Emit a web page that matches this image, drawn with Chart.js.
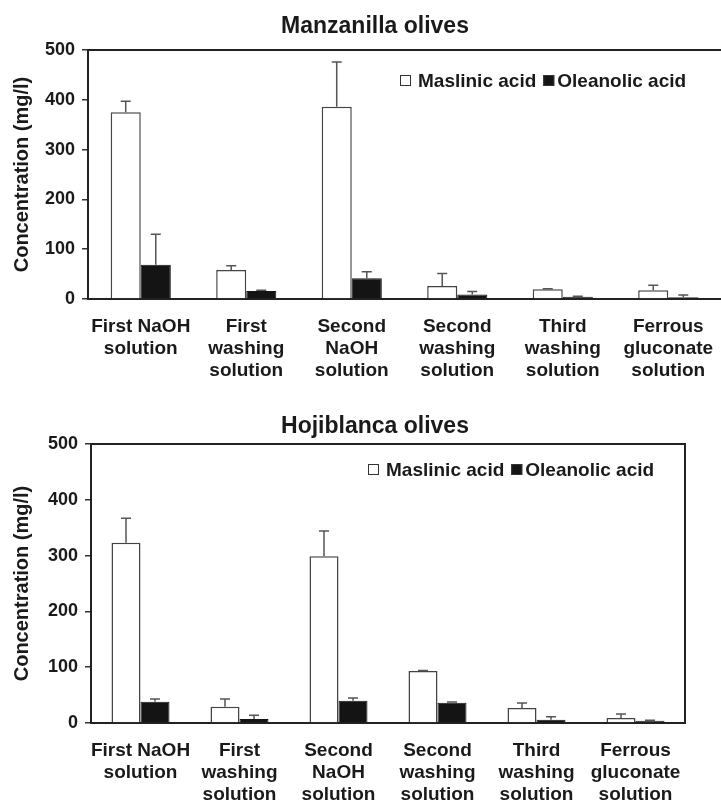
<!DOCTYPE html>
<html>
<head>
<meta charset="utf-8">
<script src="https://cdn.jsdelivr.net/npm/chart.js@4.4.1/dist/chart.umd.min.js"></script>
<style>
  html, body { margin: 0; padding: 0; background: #fff; }
  #wrap { position: relative; width: 721px; height: 802px; overflow: hidden; }
  #c1 { position: absolute; left: 0; top: 0; }
  #c2 { position: absolute; left: 0; top: 400px; }
</style>
</head>
<body>
<div id="wrap">
  <canvas id="c1" width="721" height="400"></canvas>
  <canvas id="c2" width="721" height="402"></canvas>
</div>
<script>
// ---- data ----
const categories = [
  ['First NaOH', 'solution'],
  ['First', 'washing', 'solution'],
  ['Second', 'NaOH', 'solution'],
  ['Second', 'washing', 'solution'],
  ['Third', 'washing', 'solution'],
  ['Ferrous', 'gluconate', 'solution']
];
const seriesNames = ['Maslinic acid', 'Oleanolic acid'];
const yTicks = [0, 100, 200, 300, 400, 500];

const manzanillaMaslinic    = [375, 58, 386, 26, 19.5, 17.5];
const manzanillaMaslinicErr = [22, 9, 90, 25, 1, 10];
const manzanillaOleanolic    = [69, 16, 41.5, 9, 4.5, 3.5];
const manzanillaOleanolicErr = [61, 1.5, 13, 6, 1, 4.5];

const hojiblancaMaslinic    = [323, 29, 299, 93, 27, 9];
const hojiblancaMaslinicErr = [44, 14, 45, 1, 9, 7];
const hojiblancaOleanolic    = [38, 7, 40, 36.5, 6, 4];
const hojiblancaOleanolicErr = [5, 7, 5, 1, 5, 1];

// ---- plugins ----
const FONT = "'Liberation Sans', Arial, Helvetica, sans-serif";

const errorBars = {
  id: 'errorBars',
  afterDatasetsDraw(chart) {
    const ctx = chart.ctx;
    const y = chart.scales.y;
    ctx.save();
    ctx.strokeStyle = '#555';
    ctx.lineWidth = 1.5;
    chart.data.datasets.forEach((ds, di) => {
      const meta = chart.getDatasetMeta(di);
      meta.data.forEach((bar, i) => {
        const e = ds.errors[i];
        if (e == null) return;
        const top = y.getPixelForValue(ds.data[i] + e);
        const base = y.getPixelForValue(ds.data[i]);
        ctx.beginPath();
        ctx.moveTo(bar.x, base);
        ctx.lineTo(bar.x, top);
        ctx.moveTo(bar.x - 5, top);
        ctx.lineTo(bar.x + 5, top);
        ctx.stroke();
      });
    });
    ctx.restore();
  }
};

const frame = {
  id: 'frame',
  afterDraw(chart, args, opts) {
    const {ctx, chartArea: a} = chart;
    ctx.save();
    ctx.strokeStyle = '#222';
    ctx.lineWidth = 2;
    ctx.beginPath();
    ctx.moveTo(a.left, a.top);
    ctx.lineTo(a.right, a.top);
    if (opts.right) {
      ctx.lineTo(a.right, a.bottom);
    }
    ctx.stroke();
    ctx.restore();
  }
};

const chartTitle = {
  id: 'chartTitle',
  afterDraw(chart, args, opts) {
    const ctx = chart.ctx;
    ctx.save();
    ctx.font = 'bold 23px ' + FONT;
    ctx.fillStyle = '#1a1a1a';
    ctx.textAlign = 'center';
    ctx.textBaseline = 'middle';
    ctx.fillText(opts.text, opts.x, opts.y);
    ctx.restore();
  }
};

const innerLegend = {
  id: 'innerLegend',
  afterDraw(chart, args, opts) {
    const ctx = chart.ctx;
    ctx.save();
    ctx.font = 'bold 19px ' + FONT;
    ctx.textBaseline = 'middle';
    ctx.textAlign = 'left';
    let x = opts.x;
    const yc = opts.y;
    chart.data.datasets.forEach((ds, i) => {
      const s = 11;
      ctx.fillStyle = ds.backgroundColor;
      ctx.fillRect(x, yc - s / 2, s, s);
      ctx.strokeStyle = '#333';
      ctx.lineWidth = 1;
      ctx.strokeRect(x + 0.5, yc - s / 2 + 0.5, s - 1, s - 1);
      x += s + (i === 0 ? 7 : 3);
      ctx.fillStyle = '#1a1a1a';
      ctx.fillText(ds.label, x, yc + 1);
      x += ctx.measureText(ds.label).width + 7;
    });
    ctx.restore();
  }
};

function makeChart(id, title, mas, masErr, ole, oleErr, L) {
  return new Chart(document.getElementById(id), {
    type: 'bar',
    data: {
      labels: categories,
      datasets: [
        {
          label: seriesNames[0], data: mas, errors: masErr,
          backgroundColor: '#ffffff', borderColor: '#444', borderWidth: 1.5,
          barPercentage: 1, categoryPercentage: L.catPct
        },
        {
          label: seriesNames[1], data: ole, errors: oleErr,
          backgroundColor: '#141414', borderColor: '#141414', borderWidth: 1,
          barPercentage: 1, categoryPercentage: L.catPct
        }
      ]
    },
    options: {
      responsive: false,
      animation: false,
      events: [],
      layout: { padding: { left: 0, right: L.padRight, top: L.padTop, bottom: 0 } },
      plugins: {
        legend: { display: false },
        tooltip: { enabled: false },
        title: { display: false },
        chartTitle: { text: title, x: 375, y: 27 },
        innerLegend: { x: L.legendX, y: L.legendY },
        frame: { right: L.rightBorder }
      },
      scales: {
        x: {
          grid: { display: false, drawTicks: false },
          border: { display: true, color: '#222', width: 2 },
          ticks: {
            color: '#1a1a1a', padding: 17, maxRotation: 0, autoSkip: false,
            font: { family: FONT, size: 19, weight: 'bold', lineHeight: '22px' }
          },
          afterFit(s) { s.height = L.xHeight; s.paddingLeft = 0; s.paddingRight = 0; }
        },
        y: {
          min: 0, max: 500,
          afterBuildTicks(s) { s.ticks = yTicks.map(v => ({ value: v })); },
          grid: { display: true, drawOnChartArea: false, drawTicks: true, tickLength: 6, color: '#333', lineWidth: 1.5 },
          border: { display: true, color: '#222', width: 2 },
          ticks: {
            color: '#1a1a1a', padding: 7,
            font: { family: FONT, size: 18, weight: 'bold' }
          },
          title: {
            display: true, text: 'Concentration (mg/l)', color: '#1a1a1a',
            font: { family: FONT, size: 20, weight: 'bold', lineHeight: 1.2 },
            padding: { top: 10, bottom: 0 }
          },
          afterFit(s) { s.width = L.yWidth; s.paddingTop = 0; s.paddingBottom = 0; }
        }
      }
    },
    plugins: [errorBars, frame, chartTitle, innerLegend]
  });
}

makeChart('c1', 'Manzanilla olives',
  manzanillaMaslinic, manzanillaMaslinicErr, manzanillaOleanolic, manzanillaOleanolicErr,
  { catPct: 0.57, padRight: 0, padTop: 50, xHeight: 101, yWidth: 88,
    legendX: 400, legendY: 80.5, rightBorder: false });

makeChart('c2', 'Hojiblanca olives',
  hojiblancaMaslinic, hojiblancaMaslinicErr, hojiblancaOleanolic, hojiblancaOleanolicErr,
  { catPct: 0.586, padRight: 36, padTop: 44, xHeight: 79, yWidth: 91,
    legendX: 368, legendY: 69.5, rightBorder: true });
</script>
</body>
</html>
